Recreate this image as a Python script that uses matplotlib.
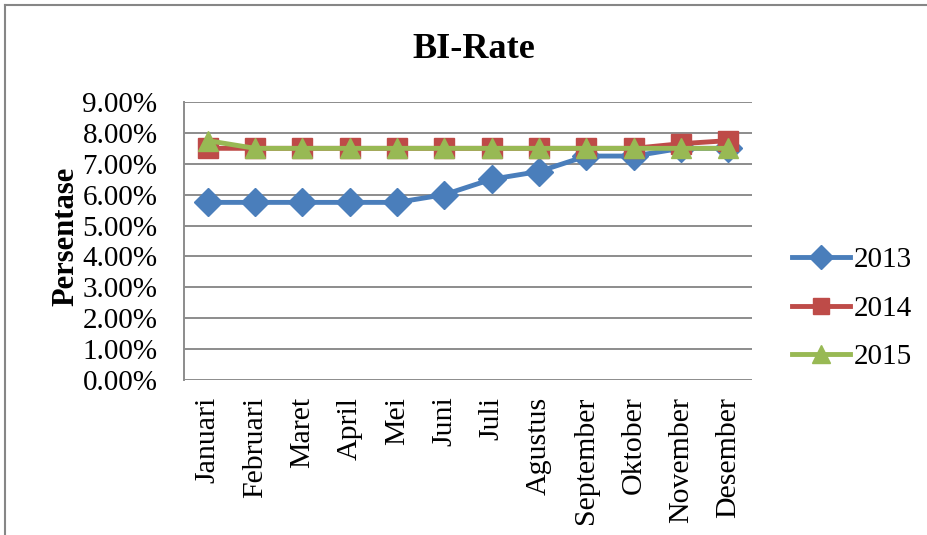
import numpy as np
import matplotlib.pyplot as plt
from matplotlib.lines import Line2D
from matplotlib.ticker import FuncFormatter

months = ['Januari', 'Februari', 'Maret', 'April', 'Mei', 'Juni', 'Juli',
          'Agustus', 'September', 'Oktober', 'November', 'Desember']
rate_2013 = [5.75, 5.75, 5.75, 5.75, 5.75, 6.00, 6.50, 6.75, 7.25, 7.25, 7.50, 7.50]
rate_2014 = [7.50, 7.50, 7.50, 7.50, 7.50, 7.50, 7.50, 7.50, 7.50, 7.50, 7.65, 7.75]
rate_2015 = [7.75, 7.50, 7.50, 7.50, 7.50, 7.50, 7.50, 7.50, 7.50, 7.50, 7.50, 7.50]
y_ticks = np.arange(0, 10, 1)

plt.rcParams['font.family'] = ['Liberation Serif', 'DejaVu Serif']

fig = plt.figure(figsize=(9.27, 5.35), dpi=100)
ax = fig.add_axes([184/927, 1 - 380/535, (752-184)/927, (380-102)/535])

x = np.arange(len(months))
ax.plot(x, rate_2013, color='#4A7EBB', linewidth=3.5, marker='D', markersize=14, label='2013')
ax.plot(x, rate_2014, color='#BE4B48', linewidth=3.5, marker='s', markersize=14, label='2014')
ax.plot(x, rate_2015, color='#98B954', linewidth=3.5, marker='^', markersize=15, label='2015')

ax.set_xlim(-0.5, len(months) - 0.5)
ax.set_ylim(0, 9)
ax.set_yticks(y_ticks)
ax.yaxis.set_major_formatter(FuncFormatter(lambda v, p: '%.2f%%' % v))
ax.set_xticks(x)
ax.set_xticklabels(months, rotation=90, va='top')
ax.tick_params(axis='y', length=0, pad=19, labelsize=21)
ax.tick_params(axis='x', length=0, pad=12, labelsize=21.5)
ax.grid(axis='y', color='#8c8c8c', linewidth=1.4)
ax.set_axisbelow(True)
for s in ['top', 'right', 'bottom']:
    ax.spines[s].set_visible(False)
ax.spines['left'].set_color('#8c8c8c')
ax.spines['left'].set_linewidth(1.4)

ax.set_ylabel('Persentase', fontsize=22, fontweight='bold')
ax.yaxis.set_label_coords(-0.183, 0.515)
fig.text(474/927, 1 - 49/535, 'BI-Rate', fontsize=26, fontweight='bold', ha='center', va='center')

ax.legend(loc='center left', bbox_to_anchor=(1.05, 0.257), frameon=False, fontsize=21,
          handlelength=2.0, handletextpad=0.1, labelspacing=0.75, borderaxespad=0,
          markerscale=0.85)

# outer chart border (only top and left visible in the crop)
fig.add_artist(Line2D([5/927, 5/927], [0, 1 - 5/535], transform=fig.transFigure, color='#868686', linewidth=1.5))
fig.add_artist(Line2D([5/927, 1], [1 - 5/535, 1 - 5/535], transform=fig.transFigure, color='#868686', linewidth=1.5))

plt.savefig('out.png', dpi=100)
